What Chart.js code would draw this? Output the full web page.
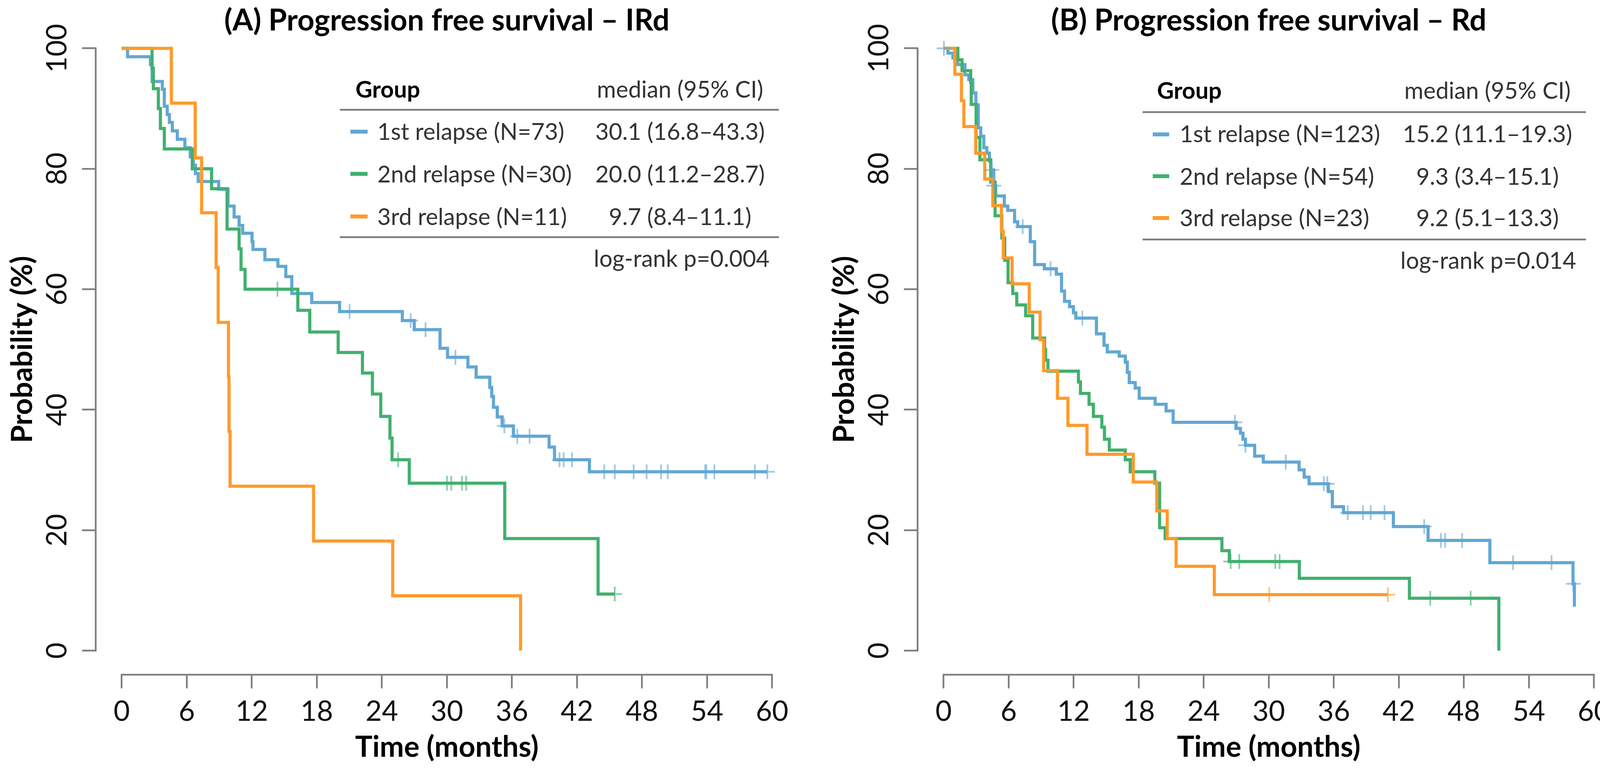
<!DOCTYPE html>
<html>
<head>
<meta charset="utf-8">
<script src="https://cdn.jsdelivr.net/npm/chart.js@4.4.0/dist/chart.umd.min.js"></script>
<style>
html,body{margin:0;padding:0;background:#fff;overflow:hidden;width:4133px;height:1976px;}
#wrap{position:relative;width:4133px;height:1976px;overflow:hidden;background:#fff;}
.panel{position:absolute;top:0;width:2100px;height:1976px;}
#pA{left:0px}
#pB{left:2104px}
#ov{position:absolute;left:0;top:0;pointer-events:none;}
</style>
</head>
<body>
<div id="wrap">
  <div class="panel" id="pA"><canvas id="cA"></canvas></div>
  <div class="panel" id="pB"><canvas id="cB"></canvas></div>
  <svg id="ov" width="4133" height="1976" xmlns="http://www.w3.org/2000/svg"></svg>
</div>
<script>
// ---------------- DATA ----------------
const xTicks = [0, 6, 12, 18, 24, 30, 36, 42, 48, 54, 60];
const yTicks = [0, 20, 40, 60, 80, 100];
const groupColors = ['#62a7d3', '#41b06e', '#ff9a2a'];
const censorColors = ['rgba(98,167,211,0.6)', 'rgba(65,176,110,0.6)', 'rgba(255,154,42,0.6)'];

const titleA = '(A) Progression free survival \u2013 IRd';
const titleB = '(B) Progression free survival \u2013 Rd';
const xTitle = 'Time (months)';
const yTitle = 'Probability (%)';
const tableHead = ['Group', 'median (95% CI)'];

const A_labels = ['1st relapse (N=73)', '2nd relapse (N=30)', '3rd relapse (N=11)'];
const A_medians = ['30.1 (16.8\u201343.3)', '20.0 (11.2\u201328.7)', '9.7 (8.4\u201311.1)'];
const A_logrank = 'log-rank p=0.004';
const B_labels = ['1st relapse (N=123)', '2nd relapse (N=54)', '3rd relapse (N=23)'];
const B_medians = ['15.2 (11.1\u201319.3)', '9.3 (3.4\u201315.1)', '9.2 (5.1\u201313.3)'];
const B_logrank = 'log-rank p=0.014';

// Panel A, 1st relapse
const A_t1 = [0, 0.54, 2.65, 2.80, 3.75, 3.93, 4.2, 4.4, 4.67, 5.13, 5.83, 6.32, 6.6, 6.8, 7.06, 8.95, 9.81, 10.37, 10.83, 11.16, 12.02, 12.11, 13.21, 14.41, 15.14, 15.69, 17.53, 20.1, 25.89, 26.99, 29.37, 30.06, 31.94, 32.7, 33.96, 34.14, 34.3, 34.65, 35.1, 36.14, 39.43, 39.93, 43.15, 59.57];
const A_s1 = [100, 98.6, 97.3, 94.5, 93.2, 90.4, 89.0, 87.7, 86.3, 84.9, 83.5, 82.0, 80.6, 79.2, 77.9, 76.6, 73.8, 72.0, 70.6, 69.3, 67.9, 66.6, 64.9, 63.8, 62.1, 59.3, 57.8, 56.3, 54.8, 53.3, 50.2, 48.7, 47.1, 45.4, 43.7, 42.2, 40.4, 38.8, 37.3, 35.6, 33.8, 31.7, 29.7, 29.7];
const A_c1 = [21.02, 26.66, 28.03, 30.79, 35.3, 36.5, 37.63, 40.39, 40.78, 41.54, 44.52, 45.49, 47.23, 48.43, 49.76, 50.38, 53.83, 53.94, 54.68, 58.42, 59.57];
// Panel A, 2nd relapse
const A_t2 = [0, 2.80, 2.92, 3.38, 3.57, 3.93, 6.51, 8.29, 9.72, 10.83, 11.01, 11.38, 16.25, 17.35, 19.97, 22.21, 23.13, 23.9, 24.75, 24.94, 26.53, 35.34, 43.95, 45.49];
const A_s2 = [100, 96.7, 93.3, 90.0, 86.7, 83.3, 80.0, 76.7, 70.0, 66.7, 63.3, 60.0, 56.5, 52.9, 49.5, 46.1, 42.6, 38.9, 35.3, 31.7, 27.8, 18.6, 9.4, 9.4];
const A_c2 = [14.37, 25.5, 30.01, 30.40, 31.39, 31.78, 45.49];
// Panel A, 3rd relapse
const A_t3 = [0, 4.58, 6.78, 7.37, 8.71, 8.9, 9.85, 9.9, 10.0, 17.7, 25.0, 36.8];
const A_s3 = [100, 90.9, 81.8, 72.7, 63.6, 54.5, 45.5, 36.4, 27.3, 18.2, 9.1, 0];
const A_c3 = [];

// Panel B, 1st relapse
const B_t1 = [0, 0.4, 0.86, 1.32, 1.97, 2.33, 2.70, 2.98, 3.2, 3.43, 3.71, 3.99, 4.23, 4.35, 4.63, 4.81, 5.6, 5.92, 6.55, 6.84, 8.0, 8.4, 9.3, 10.4, 10.88, 11.16, 11.62, 11.98, 12.2, 14.1, 14.8, 15.1, 16.2, 16.77, 16.95, 17.13, 17.68, 18.05, 19.52, 20.53, 21.18, 27.0, 27.39, 27.62, 27.85, 28.7, 29.5, 32.8, 33.27, 33.72, 35.5, 35.87, 36.9, 41.5, 44.7, 50.4, 58.07, 58.2];
const B_s1 = [100, 99.2, 98.4, 97.3, 95.6, 94.8, 92.6, 90.6, 86.8, 85.4, 83.5, 82.6, 81.3, 79.8, 77.2, 75.5, 73.8, 73.1, 71.2, 70.4, 67.9, 64.1, 63.4, 62.5, 59.7, 58.0, 57.1, 56.1, 55.2, 52.6, 50.7, 49.6, 48.9, 47.9, 46.2, 44.5, 43.6, 41.9, 40.9, 39.8, 37.9, 36.9, 36.1, 35.1, 34.1, 32.3, 31.3, 30.0, 28.8, 27.7, 26.4, 23.9, 22.9, 20.6, 18.3, 14.6, 11.1, 7.3];
const B_c1 = [0.03, 4.45, 4.63, 7.3, 9.87, 12.8, 26.88, 27.85, 31.57, 35.08, 35.4, 37.29, 38.69, 39.41, 40.68, 44.34, 45.88, 46.28, 47.84, 52.54, 56.09, 58.1];
// Panel B, 2nd relapse
const B_t2 = [0, 1.32, 1.7, 2.5, 2.55, 3.0, 3.35, 4.35, 4.75, 5.37, 5.64, 5.95, 6.38, 6.75, 7.57, 8.22, 9.32, 9.41, 9.63, 12.44, 12.63, 13.42, 13.82, 14.6, 14.84, 15.29, 16.76, 17.22, 19.49, 19.93, 20.44, 25.68, 26.36, 32.82, 42.98, 51.23];
const B_s2 = [100, 98.1, 96.3, 94.4, 90.7, 85.2, 81.5, 77.8, 72.2, 68.5, 64.8, 61.1, 59.3, 57.4, 55.6, 51.9, 50.0, 48.2, 46.4, 44.6, 42.7, 40.9, 38.9, 37.1, 35.1, 33.3, 31.7, 29.7, 27.8, 20.4, 18.6, 16.6, 14.8, 12.0, 8.7, 0];
const B_c2 = [26.49, 27.28, 30.6, 31.0, 44.9, 48.63];
// Panel B, 3rd relapse
const B_t3 = [0, 1.04, 1.65, 1.87, 2.97, 3.80, 4.54, 5.33, 5.51, 6.32, 7.90, 8.90, 9.23, 10.51, 11.47, 13.23, 17.5, 19.67, 20.63, 21.45, 24.98, 40.99];
const B_s3 = [100, 95.7, 91.3, 87.0, 82.6, 78.3, 73.9, 69.6, 65.2, 60.9, 56.2, 51.6, 46.5, 41.9, 37.4, 32.6, 28.0, 23.2, 18.6, 14.0, 9.3, 9.3];
const B_c3 = [30.04, 40.99];

// ---------------- HELPERS ----------------
const FONT = 'Lato';
const mctx = document.createElement('canvas').getContext('2d');
function textW(text, weight, size) {
  mctx.font = weight + ' ' + size + 'px ' + FONT;
  return mctx.measureText(text).width;
}
// font size so that the text advance matches a target width (measured on the reference)
function fitSize(text, weight, target) {
  return 100 * target / textW(text, weight, 100);
}
const TITLE_SIZE = fitSize(titleA, 'bold', 1140);
const AXIS_TITLE_SIZE = fitSize(xTitle, 'bold', 470);
const TABLE_SIZE = fitSize(tableHead[1], 'normal', 426);
const TICK_SIZE = 72;

function survAt(ts, ss, t) {
  let v = ss[0];
  for (let i = 0; i < ts.length; i++) { if (ts[i] <= t) v = ss[i]; }
  return v;
}
function stepDataset(ts, ss, gi) {
  return {
    type: 'line', label: 'g' + gi,
    data: ts.map((t, i) => ({x: t, y: ss[i]})),
    stepped: true, borderColor: groupColors[gi], borderWidth: 8,
    pointRadius: 0, fill: false, tension: 0, order: 10 - gi,
    borderJoinStyle: 'miter', borderCapStyle: 'butt'
  };
}
function censorDataset(cs, ts, ss, gi) {
  return {
    type: 'scatter', label: 'c' + gi,
    data: cs.map(t => ({x: t, y: survAt(ts, ss, t)})),
    pointStyle: 'cross', pointRadius: 19, pointBorderWidth: 4.5,
    borderColor: censorColors[gi], backgroundColor: censorColors[gi],
    pointHoverRadius: 19, order: 5 - gi, showLine: false
  };
}

const widestY = Math.max(...yTicks.map(v => textW(String(v), 'normal', TICK_SIZE)));
const yTickPad = 245 - 35 - widestY / 2 - 147;

const axisLines = {
  id: 'axisLines',
  beforeDatasetsDraw(chart) {
    const {ctx, chartArea, scales} = chart;
    const x = scales.x, y = scales.y;
    ctx.save();
    ctx.strokeStyle = '#808080';
    ctx.lineWidth = 4.5;
    ctx.lineCap = 'square';
    ctx.beginPath();
    ctx.moveTo(x.getPixelForValue(xTicks[0]), chartArea.bottom);
    ctx.lineTo(x.getPixelForValue(xTicks[xTicks.length - 1]), chartArea.bottom);
    ctx.moveTo(chartArea.left, y.getPixelForValue(yTicks[0]));
    ctx.lineTo(chartArea.left, y.getPixelForValue(yTicks[yTicks.length - 1]));
    ctx.stroke();
    ctx.restore();
  }
};

function makeChart(canvasId, title, groupsT, groupsS, groupsC) {
  const datasets = [];
  for (let g = 0; g < 3; g++) {
    datasets.push(stepDataset(groupsT[g], groupsS[g], g));
    if (groupsC[g].length) datasets.push(censorDataset(groupsC[g], groupsT[g], groupsS[g], g));
  }
  const gridOpts = {drawOnChartArea: false, drawTicks: true, tickLength: 35, color: '#808080', lineWidth: 4.5};
  const titleTop = 53 - TITLE_SIZE / 2;
  return new Chart(document.getElementById(canvasId), {
    data: {datasets},
    plugins: [axisLines],
    options: {
      responsive: true, maintainAspectRatio: false, animation: false, devicePixelRatio: 1,
      layout: {padding: {top: 0, left: 0, right: 57, bottom: 0}},
      plugins: {
        legend: {display: false}, tooltip: {enabled: false},
        title: {display: true, text: title, fullSize: false, color: '#000',
          font: {family: FONT, weight: 'bold', size: TITLE_SIZE, lineHeight: 1},
          padding: {top: titleTop, bottom: 62 - TITLE_SIZE - titleTop}}
      },
      scales: {
        x: {
          type: 'linear', position: 'bottom', min: -2.4, max: 62.4,
          afterBuildTicks: s => { s.ticks = xTicks.map(v => ({value: v})); },
          afterFit: s => { s.height = 249; },
          grid: gridOpts, border: {display: false},
          ticks: {font: {family: FONT, size: TICK_SIZE, lineHeight: 1}, color: '#111', padding: 24, maxRotation: 0, autoSkip: false},
          title: {display: true, text: xTitle, color: '#000', font: {family: FONT, weight: 'bold', size: AXIS_TITLE_SIZE, lineHeight: 1},
            padding: {top: 0, bottom: 63 - AXIS_TITLE_SIZE / 2}}
        },
        y: {
          type: 'linear', position: 'left', min: -4, max: 104,
          afterBuildTicks: s => { s.ticks = yTicks.map(v => ({value: v})); },
          afterFit: s => { s.width = 245; },
          grid: gridOpts, border: {display: false},
          ticks: {font: {family: FONT, size: TICK_SIZE, lineHeight: 1}, color: '#111', padding: yTickPad, minRotation: 90, maxRotation: 90, crossAlign: 'center', autoSkip: false},
          title: {display: true, text: yTitle, color: '#000', font: {family: FONT, weight: 'bold', size: AXIS_TITLE_SIZE, lineHeight: 1},
            padding: {top: 58 - AXIS_TITLE_SIZE / 2, bottom: 0}}
        }
      }
    }
  });
}

makeChart('cA', titleA, [A_t1, A_t2, A_t3], [A_s1, A_s2, A_s3], [A_c1, A_c2, A_c3]);
makeChart('cB', titleB, [B_t1, B_t2, B_t3], [B_s1, B_s2, B_s3], [B_c1, B_c2, B_c3]);

// ---------------- TABLE OVERLAY ----------------
const NS = 'http://www.w3.org/2000/svg';
const svg = document.getElementById('ov');
function el(tag, attrs, text) {
  const e = document.createElementNS(NS, tag);
  for (const k in attrs) e.setAttribute(k, attrs[k]);
  if (text !== undefined) e.textContent = text;
  svg.appendChild(e);
  return e;
}
function drawTable(L, labels, medians, logrank) {
  const fs = TABLE_SIZE;
  el('text', {x: L.groupX, y: L.headY, 'font-family': FONT, 'font-weight': 'bold', 'font-size': fs, fill: '#000'}, tableHead[0]);
  el('text', {x: L.medX, y: L.headY, 'font-family': FONT, 'font-size': fs, fill: '#333', 'text-anchor': 'middle'}, tableHead[1]);
  el('line', {x1: L.ruleX1, x2: L.ruleX2, y1: L.rule1, y2: L.rule1, stroke: '#7a7a7a', 'stroke-width': 4.5});
  el('line', {x1: L.ruleX1, x2: L.ruleX2, y1: L.rule2, y2: L.rule2, stroke: '#7a7a7a', 'stroke-width': 4.5});
  for (let i = 0; i < 3; i++) {
    el('line', {x1: L.mk1, x2: L.mk2, y1: L.mkY[i], y2: L.mkY[i], stroke: groupColors[i], 'stroke-width': 10});
    el('text', {x: L.textX, y: L.rowY[i], 'font-family': FONT, 'font-size': fs, fill: '#333'}, labels[i]);
    el('text', {x: L.medX, y: L.rowY[i], 'font-family': FONT, 'font-size': fs, fill: '#333', 'text-anchor': 'middle'}, medians[i]);
  }
  el('text', {x: L.lrX, y: L.lrY, 'font-family': FONT, 'font-size': fs, fill: '#333', 'text-anchor': 'middle'}, logrank);
}
drawTable({groupX: 910, headY: 250, medX: 1741, ruleX1: 870, ruleX2: 1994, rule1: 281, rule2: 607,
  mk1: 897, mk2: 941, mkY: [337, 445, 554], textX: 966, rowY: [358, 467, 576], lrX: 1745, lrY: 683},
  A_labels, A_medians, A_logrank);
drawTable({groupX: 2962, headY: 253, medX: 3808, ruleX1: 2925, ruleX2: 4060, rule1: 287, rule2: 613,
  mk1: 2951, mk2: 2993, mkY: [344, 451, 558], textX: 3020, rowY: [364, 473, 579], lrX: 3810, lrY: 688},
  B_labels, B_medians, B_logrank);
</script>
</body>
</html>
